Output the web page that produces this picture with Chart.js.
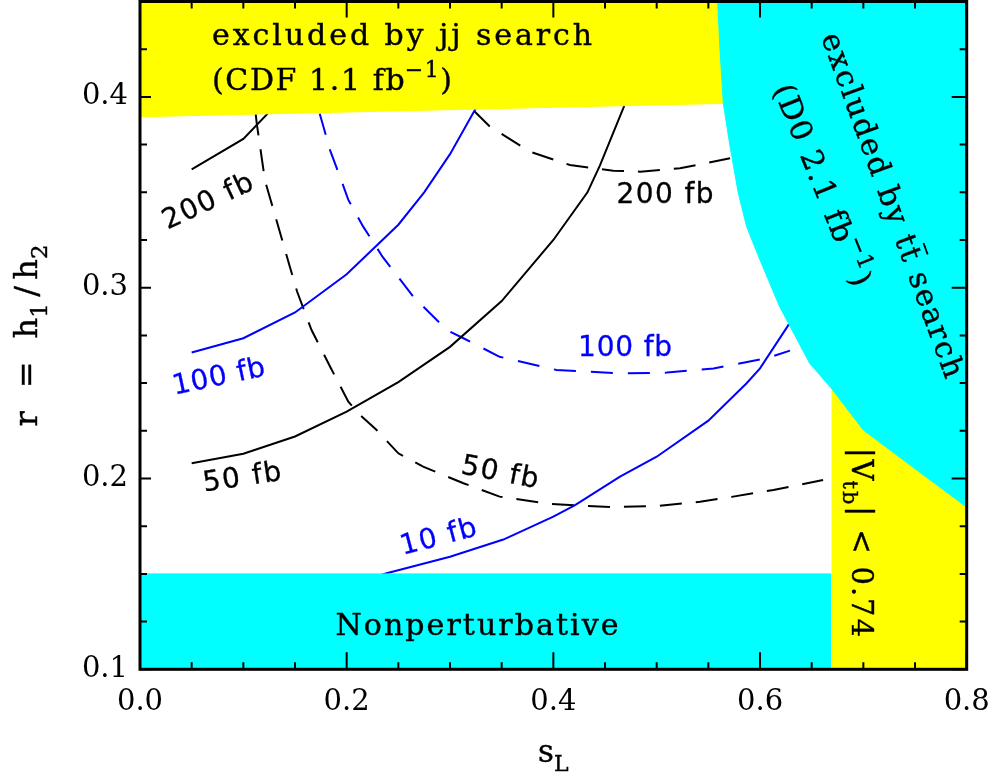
<!DOCTYPE html>
<html><head><meta charset="utf-8">
<script src="https://cdn.jsdelivr.net/npm/chart.js@4.4.1/dist/chart.umd.min.js"></script>
<style>html,body{margin:0;padding:0;background:#fff}canvas{display:block}</style>
</head><body>
<canvas id="chart" width="995" height="776"></canvas>
<script>
// === axes ===
const xTicks=[0.0,0.2,0.4,0.6,0.8];
const yTicks=[0.1,0.2,0.3,0.4];

// === excluded regions (boundaries) ===
const jjX=[0.0,0.5645];                 // CDF jj search, filled upward
const jjY=[0.3896,0.3966];
const ttX=[0.559,0.5613,0.5645,0.571,0.579,0.587,0.600,0.619,0.648,0.669,0.700,0.7516,0.8]; // D0 tt search, filled upward
const ttY=[0.45,0.4246,0.3966,0.374,0.3495,0.332,0.3145,0.290,0.2604,0.2473,0.2254,0.2045,0.185];
const vtbX=[0.669,0.8];                 // |Vtb|<0.74, filled downward
const vtbY=[0.30,0.30];
const npX=[0.0,0.669];                  // nonperturbative, filled downward
const npY=[0.15,0.15];

// === cross-section contours ===
const s200X=[0.05,0.10,0.123,0.135];
const s200Y=[0.362,0.378,0.391,0.402];
const s100X=[0.05,0.10,0.15,0.20,0.25,0.275,0.30,0.325,0.34];
const s100Y=[0.266,0.2735,0.287,0.307,0.333,0.350,0.370,0.394,0.41];
const s50X=[0.05,0.10,0.15,0.20,0.25,0.30,0.35,0.40,0.433,0.445,0.468,0.49];
const s50Y=[0.208,0.213,0.222,0.235,0.2505,0.269,0.293,0.325,0.350,0.364,0.3945,0.43];
const s10X=[0.20,0.2387,0.30,0.3516,0.40,0.421,0.4645,0.50,0.55,0.587,0.60,0.629,0.65];
const s10Y=[0.144,0.1503,0.159,0.168,0.18,0.186,0.201,0.2114,0.2303,0.2499,0.2577,0.2817,0.30];
const d200X=[0.31,0.3226,0.3387,0.3774,0.416,0.458,0.484,0.5226,0.571];
const d200Y=[0.41,0.393,0.3844,0.3713,0.3643,0.3613,0.3608,0.3626,0.3678];
const d100X=[0.165,0.173,0.184,0.197,0.2016,0.216,0.235,0.2645,0.297,0.313,0.348,0.403,0.465,0.51,0.555,0.606,0.629];
const d100Y=[0.41,0.393,0.372,0.353,0.346,0.332,0.316,0.2953,0.2778,0.2735,0.2638,0.2569,0.2551,0.2555,0.2577,0.263,0.267];
const d50X=[0.108,0.113,0.121,0.132,0.145,0.152,0.166,0.184,0.2016,0.213,0.229,0.25,0.274,0.313,0.348,0.398,0.455,0.5,0.542,0.574,0.613,0.661];
const d50Y=[0.41,0.386,0.356,0.3355,0.311,0.298,0.2778,0.2586,0.2403,0.2333,0.2254,0.2132,0.2062,0.1975,0.1905,0.1866,0.185,0.1856,0.1878,0.1905,0.194,0.1992];

const CYAN='#00ffff',YELLOW='#ffff00',BLUE='#0000ff',BLACK='#000000';

function pts(xs,ys){return xs.map((x,i)=>({x,y:ys[i]}));}
function region(xs,ys,col,fill,order){
  return {data:pts(xs,ys),showLine:true,borderColor:col,backgroundColor:col,borderWidth:1,
          pointRadius:0,fill,order};
}
function curve(xs,ys,col,dash){
  return {data:pts(xs,ys),showLine:true,borderColor:col,borderWidth:2,borderDash:dash||[],
          pointRadius:0,fill:false,tension:0,order:5};
}

// === text with sub/sup/bar, spaced out to a given width ===
// no extra space is put in front of a sub/superscript glyph
function drawText(ctx,px,py,parts,o){
  const s=o.size,fam=o.family;
  const small=k=>k==='sub'||k==='sup';
  const fnt=k=>(small(k)?Math.round(s*0.72):s)+'px "'+fam+'"';
  const gl=[];
  parts.forEach(([t,k])=>{
    ctx.font=fnt(k);
    for(const ch of t)gl.push({ch,k,w:ctx.measureText(ch).width});
  });
  const w0=gl.reduce((a,g)=>a+g.w,0);
  let gaps=0;
  for(let i=1;i<gl.length;i++)if(!small(gl[i].k)||small(gl[i-1].k))gaps++;
  const sp=o.width?(o.width-w0)/Math.max(1,gaps):0;
  const W=w0+sp*gaps;
  ctx.save();
  ctx.translate(px,py);ctx.rotate((o.angle||0)*Math.PI/180);
  ctx.fillStyle=o.color||BLACK;ctx.strokeStyle=o.color||BLACK;
  ctx.textBaseline='alphabetic';ctx.textAlign='left';
  let cx=o.align==='left'?0:-W/2;
  gl.forEach((g,i)=>{
    if(i>0&&(!small(g.k)||small(gl[i-1].k)))cx+=sp;
    ctx.font=fnt(g.k);
    const dy=g.k==='sub'?0.3*s:g.k==='sup'?-0.45*s:0;
    ctx.fillText(g.ch,cx,dy);
    if(o.heavy){ctx.lineWidth=o.heavy;ctx.strokeText(g.ch,cx,dy);}
    if(g.k==='bar'){
      ctx.lineWidth=Math.max(1.5,s*0.06);
      ctx.beginPath();ctx.moveTo(cx,-0.86*s);ctx.lineTo(cx+g.w,-0.86*s);ctx.stroke();
    }
    cx+=g.w;
  });
  ctx.restore();
}

const SERIF='DejaVu Serif',SANS='DejaVu Sans';
// labels at data coordinates
const labels=[
  {p:[['excluded by jj search','']],x:0.0697,y:0.4272,size:30,family:SERIF,width:380,align:'left'},
  {p:[['(CDF 1.1 fb',''],['−1','sup'],[')','']],x:0.0697,y:0.4036,size:30,family:SERIF,width:240,align:'left'},
  {p:[['Nonperturbative','']],x:0.3261,y:0.118,size:30,family:SERIF,width:283},
  {p:[['excluded by ',''],['t',''],['t','bar'],[' search','']],x:0.7195,y:0.3415,size:30,family:SERIF,width:365,angle:70},
  {p:[['(D0 2.1 fb',''],['−1','sup'],[')','']],x:0.6515,y:0.3519,size:30,family:SERIF,width:215,angle:68},
  {p:[['|V',''],['tb','sub'],['| < 0.74','']],x:0.689,y:0.1665,size:29,family:SERIF,width:189,angle:90},
  {p:[['200 fb','']],x:0.0691,y:0.3412,size:28,family:SANS,width:97,angle:-25.3},
  {p:[['100 fb','']],x:0.0779,y:0.249,size:28,family:SANS,width:94,angle:-12,color:BLUE},
  {p:[['50 fb','']],x:0.100,y:0.1962,size:28,family:SANS,width:79,angle:-8.5},
  {p:[['50 fb','']],x:0.3468,y:0.1988,size:28,family:SANS,width:78,angle:11},
  {p:[['10 fb','']],x:0.2908,y:0.1651,size:28,family:SANS,width:78,angle:-14.8,color:BLUE},
  {p:[['200 fb','']],x:0.5081,y:0.3442,size:28,family:SANS,width:97},
  {p:[['100 fb','']],x:0.4694,y:0.2642,size:28,family:SANS,width:94,color:BLUE}
];

const overlay={
  id:'overlay',
  afterDatasetsDraw(chart){
    const {ctx,chartArea:a,scales:{x,y}}=chart;
    ctx.save();
    // ticks, inward on all four sides
    ctx.strokeStyle=BLACK;ctx.lineWidth=2;
    ctx.beginPath();
    for(let i=0;i<=16;i++){
      const px=x.getPixelForValue(i*0.05),M=(i%4===0);
      ctx.moveTo(px,a.bottom);ctx.lineTo(px,a.bottom-(M?17:7));
      ctx.moveTo(px,a.top);ctx.lineTo(px,a.top+(M?16:7));
    }
    for(let i=0;i<=14;i++){
      const py=y.getPixelForValue(0.1+i*0.025),M=(i%4===0);
      ctx.moveTo(a.left,py);ctx.lineTo(a.left+(M?11:7),py);
      ctx.moveTo(a.right,py);ctx.lineTo(a.right-(M?15:7),py);
    }
    ctx.stroke();
    ctx.lineWidth=3;
    ctx.strokeRect(a.left,a.top,a.right-a.left,a.bottom-a.top);
    labels.forEach(l=>drawText(ctx,x.getPixelForValue(l.x),y.getPixelForValue(l.y),l.p,
      {size:l.size,family:l.family,width:l.width,angle:l.angle,align:l.align,color:l.color,
       heavy:l.family===SERIF?0.4:0.3}));
    // axis titles
    drawText(ctx,a.left-103,(a.top+a.bottom)/2,[['r = h',''],['1','sub'],['/h',''],['2','sub']],
      {size:32,family:SERIF,width:182,angle:-90,heavy:0.4});
    drawText(ctx,(a.left+a.right)/2,762,[['s',''],['L','sub']],{size:31,family:SERIF,heavy:0.4});
    ctx.restore();
  }
};

function noPad(s){s.paddingLeft=0;s.paddingRight=0;s.paddingTop=0;s.paddingBottom=0;}

new Chart(document.getElementById('chart'),{
  type:'scatter',
  data:{datasets:[
    region(ttX,ttY,CYAN,'end',0),
    region(jjX,jjY,YELLOW,'end',1),
    region(vtbX,vtbY,YELLOW,'start',1),
    region(npX,npY,CYAN,'start',1),
    curve(s200X,s200Y,BLACK),
    curve(s100X,s100Y,BLUE),
    curve(s50X,s50Y,BLACK),
    curve(s10X,s10Y,BLUE),
    curve(d200X,d200Y,BLACK,[22,14]),
    curve(d100X,d100Y,BLUE,[22,15]),
    curve(d50X,d50Y,BLACK,[22,14])
  ]},
  options:{
    responsive:false,animation:false,devicePixelRatio:1,
    layout:{padding:{left:0,right:28.3,top:1.5,bottom:0}},
    plugins:{legend:{display:false},tooltip:{enabled:false}},
    scales:{
      x:{type:'linear',min:0,max:0.8,
         afterBuildTicks:s=>{s.ticks=xTicks.map(v=>({value:v}));},
         afterFit:s=>{s.height=776-669.3;noPad(s);},
         grid:{display:false,drawTicks:false},border:{display:false},
         ticks:{padding:16,color:BLACK,font:{family:SERIF,size:29},callback:v=>v.toFixed(1),maxRotation:0}},
      y:{type:'linear',min:0.1,max:0.45,
         afterBuildTicks:s=>{s.ticks=yTicks.map(v=>({value:v}));},
         afterFit:s=>{s.width=140;noPad(s);},
         grid:{display:false,drawTicks:false},border:{display:false},
         ticks:{padding:12,color:BLACK,font:{family:SERIF,size:29},callback:v=>v.toFixed(1)}}
    }
  },
  plugins:[overlay]
});
</script>
</body></html>
